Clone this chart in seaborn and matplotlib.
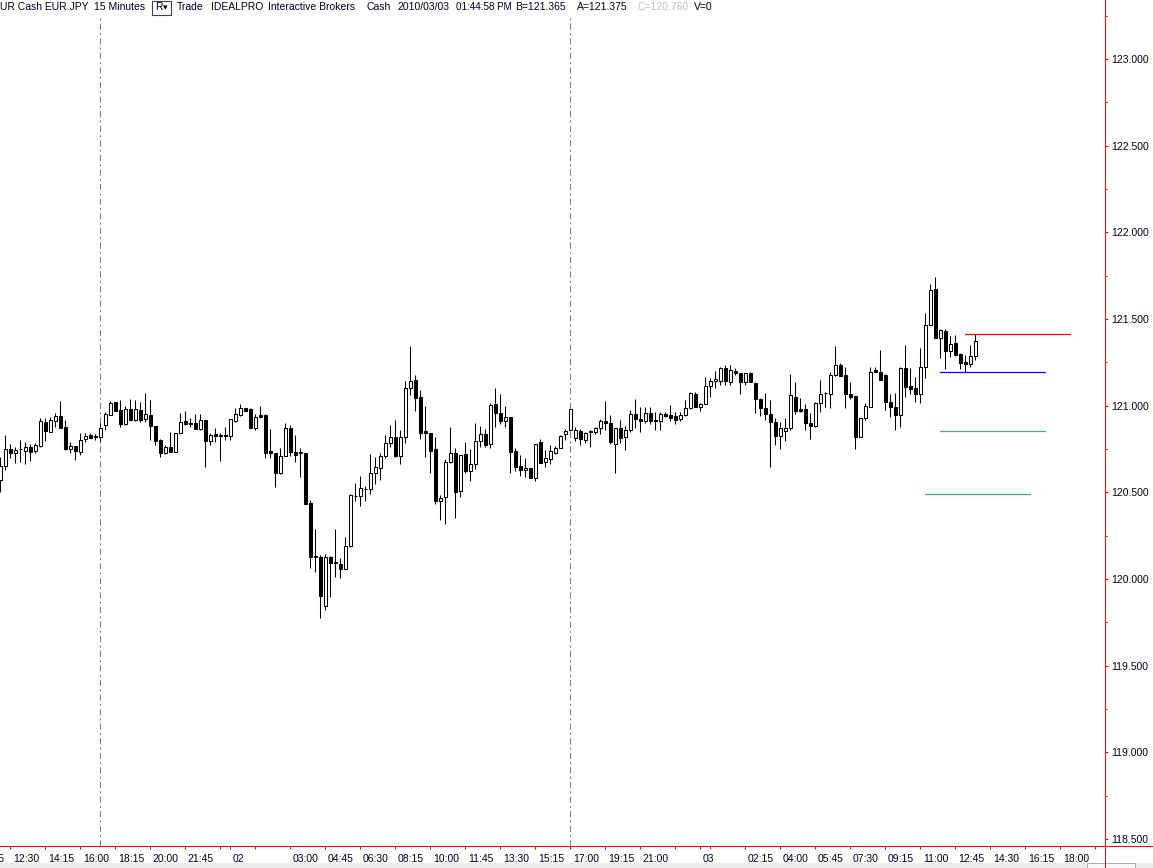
import numpy as np
import pandas as pd
import matplotlib
matplotlib.use("Agg")
import matplotlib.pyplot as plt
import matplotlib.transforms as mtransforms
from matplotlib.lines import Line2D
from matplotlib.patches import Rectangle
import seaborn as sns

sns.set_theme(style="white")
plt.rcParams['font.family'] = ['Liberation Sans', 'DejaVu Sans']

# EUR.JPY 15 minute bars
opens = [
    120.573, 120.654, 120.752, 120.729, 120.750, 120.740, 120.763, 120.740, 120.769, 120.908,
    120.850, 120.913, 120.942, 120.879, 120.752, 120.769, 120.735, 120.810, 120.833, 120.821,
    120.821, 120.890, 120.948, 121.023, 120.977, 120.896, 120.983, 120.919, 120.977, 120.925,
    120.948, 120.885, 120.804, 120.729, 120.763, 120.735, 120.844, 120.913, 120.902, 120.902,
    120.867, 120.919, 120.798, 120.838, 120.827, 120.829, 120.827, 120.913, 120.948, 120.988,
    120.983, 120.873, 120.948, 120.948, 120.740, 120.729, 120.613, 120.712, 120.873, 120.735,
    120.731, 120.729, 120.440, 120.131, 120.129, 119.846, 120.129, 120.096, 120.088, 120.060,
    120.192, 120.479, 120.481, 120.519, 120.521, 120.613, 120.642, 120.712, 120.787, 120.821,
    120.712, 120.821, 121.104, 121.150, 121.052, 120.856, 120.844, 120.752, 120.452, 120.475,
    120.677, 120.729, 120.510, 120.723, 120.625, 120.665, 120.798, 120.838, 120.781, 121.012,
    120.960, 120.913, 120.937, 120.740, 120.654, 120.631, 120.642, 120.585, 120.792, 120.677,
    120.694, 120.729, 120.758, 120.838, 120.862, 120.815, 120.856, 120.804, 120.850, 120.850,
    120.873, 120.913, 120.902, 120.781, 120.873, 120.821, 120.862, 120.954, 120.925, 120.913,
    120.960, 120.915, 120.913, 120.954, 120.948, 120.942, 120.925, 120.948, 120.988, 121.069,
    120.994, 121.012, 121.115, 121.144, 121.144, 121.219, 121.138, 121.202, 121.190, 121.138,
    121.190, 121.133, 121.040, 120.988, 120.954, 120.908, 120.827, 120.856, 120.873, 121.052,
    120.983, 120.983, 120.902, 120.885, 121.017, 121.073, 121.069, 121.179, 121.237, 121.179,
    121.069, 121.058, 120.821, 120.931, 120.994, 121.208, 121.196, 121.179, 121.023, 120.994,
    120.948, 121.219, 121.115, 121.104, 121.069, 121.225, 121.467, 121.675, 121.392, 121.433,
    121.317, 121.363, 121.300, 121.254, 121.242, 121.288,
]
highs = [
    120.706, 120.833, 120.781, 120.763, 120.804, 120.792, 120.781, 120.787, 120.931, 120.931,
    120.937, 120.960, 121.029, 120.919, 120.792, 120.769, 120.844, 120.844, 120.844, 120.838,
    120.902, 120.965, 121.029, 121.023, 121.035, 121.000, 121.040, 121.035, 121.023, 121.075,
    121.035, 120.885, 120.810, 120.775, 120.850, 120.844, 120.960, 120.971, 120.931, 120.954,
    120.954, 120.919, 120.844, 120.873, 120.844, 120.879, 120.925, 120.988, 121.012, 120.988,
    120.988, 120.954, 121.000, 120.954, 120.867, 120.729, 120.758, 120.902, 120.890, 120.833,
    120.758, 120.729, 120.458, 120.290, 120.140, 120.146, 120.135, 120.290, 120.123, 120.244,
    120.492, 120.556, 120.596, 120.538, 120.723, 120.706, 120.729, 120.833, 120.890, 120.919,
    120.862, 121.144, 121.346, 121.179, 121.092, 121.000, 120.844, 120.821, 120.487, 120.694,
    120.879, 120.758, 120.717, 120.792, 120.752, 120.902, 120.885, 120.867, 121.017, 121.104,
    121.069, 121.000, 120.937, 120.758, 120.717, 120.700, 120.642, 120.781, 120.810, 120.746,
    120.775, 120.769, 120.833, 120.867, 120.983, 120.879, 120.867, 120.850, 120.862, 120.879,
    120.925, 121.029, 120.948, 120.873, 120.919, 120.885, 120.977, 121.040, 120.994, 120.994,
    120.994, 120.965, 120.965, 120.965, 121.006, 120.965, 120.965, 121.035, 121.081, 121.081,
    121.017, 121.167, 121.162, 121.202, 121.225, 121.237, 121.237, 121.219, 121.190, 121.190,
    121.196, 121.138, 121.046, 121.075, 121.035, 120.931, 120.908, 120.931, 121.185, 121.138,
    121.046, 121.012, 120.960, 121.023, 121.150, 121.081, 121.196, 121.346, 121.248, 121.225,
    121.138, 121.058, 120.931, 121.017, 121.225, 121.225, 121.323, 121.185, 121.069, 121.075,
    121.225, 121.352, 121.219, 121.167, 121.335, 121.537, 121.704, 121.744, 121.444, 121.444,
    121.404, 121.410, 121.306, 121.294, 121.352, 121.415,
]
lows = [
    120.504, 120.631, 120.700, 120.671, 120.677, 120.665, 120.683, 120.729, 120.763, 120.798,
    120.850, 120.879, 120.873, 120.746, 120.729, 120.688, 120.717, 120.792, 120.815, 120.804,
    120.792, 120.862, 120.948, 120.971, 120.879, 120.890, 120.919, 120.913, 120.908, 120.908,
    120.804, 120.775, 120.706, 120.723, 120.735, 120.735, 120.844, 120.890, 120.879, 120.867,
    120.862, 120.648, 120.775, 120.792, 120.683, 120.804, 120.804, 120.908, 120.942, 120.971,
    120.873, 120.862, 120.931, 120.700, 120.700, 120.533, 120.608, 120.712, 120.712, 120.677,
    120.590, 120.435, 120.065, 120.042, 119.777, 119.823, 119.898, 120.013, 120.008, 120.060,
    120.187, 120.452, 120.423, 120.452, 120.492, 120.550, 120.573, 120.700, 120.763, 120.706,
    120.665, 120.787, 121.063, 120.971, 120.810, 120.706, 120.613, 120.435, 120.342, 120.319,
    120.671, 120.354, 120.475, 120.613, 120.567, 120.637, 120.763, 120.763, 120.758, 120.879,
    120.896, 120.879, 120.613, 120.625, 120.596, 120.590, 120.585, 120.567, 120.671, 120.648,
    120.665, 120.723, 120.758, 120.804, 120.856, 120.798, 120.775, 120.787, 120.763, 120.838,
    120.838, 120.862, 120.781, 120.613, 120.787, 120.746, 120.850, 120.873, 120.850, 120.902,
    120.896, 120.862, 120.862, 120.937, 120.913, 120.896, 120.913, 120.942, 120.983, 120.994,
    120.971, 121.012, 121.052, 121.104, 121.121, 121.121, 121.121, 121.179, 121.069, 121.121,
    121.138, 120.960, 120.942, 120.919, 120.648, 120.775, 120.752, 120.798, 120.862, 120.954,
    120.965, 120.862, 120.810, 120.879, 120.965, 120.994, 120.988, 121.173, 121.173, 120.988,
    121.040, 120.752, 120.821, 120.919, 120.994, 121.196, 121.150, 120.977, 120.937, 120.862,
    120.879, 121.052, 121.069, 121.023, 121.017, 121.162, 121.467, 121.392, 121.277, 121.213,
    121.283, 121.288, 121.213, 121.196, 121.225, 121.265,
]
closes = [
    120.654, 120.752, 120.729, 120.746, 120.752, 120.763, 120.735, 120.775, 120.913, 120.856,
    120.919, 120.942, 120.873, 120.752, 120.769, 120.740, 120.804, 120.827, 120.815, 120.823,
    120.873, 120.954, 121.017, 120.971, 120.896, 120.983, 120.919, 120.983, 120.919, 120.954,
    120.885, 120.798, 120.729, 120.763, 120.735, 120.844, 120.908, 120.896, 120.896, 120.867,
    120.919, 120.798, 120.833, 120.827, 120.829, 120.827, 120.925, 120.954, 120.988, 120.971,
    120.873, 120.937, 120.937, 120.729, 120.729, 120.613, 120.712, 120.873, 120.735, 120.717,
    120.729, 120.435, 120.129, 120.129, 119.904, 120.129, 120.094, 120.094, 120.060, 120.192,
    120.487, 120.481, 120.527, 120.521, 120.613, 120.648, 120.712, 120.787, 120.821, 120.712,
    120.821, 121.104, 121.144, 121.046, 120.844, 120.844, 120.740, 120.452, 120.469, 120.677,
    120.729, 120.504, 120.717, 120.625, 120.665, 120.798, 120.838, 120.775, 121.006, 120.960,
    120.913, 120.937, 120.735, 120.648, 120.631, 120.642, 120.585, 120.781, 120.671, 120.700,
    120.740, 120.758, 120.827, 120.856, 120.983, 120.862, 120.810, 120.844, 120.856, 120.873,
    120.913, 120.902, 120.792, 120.873, 120.815, 120.862, 120.954, 120.925, 120.913, 120.960,
    120.913, 120.913, 120.954, 120.942, 120.931, 120.919, 120.948, 120.988, 121.075, 120.994,
    121.012, 121.115, 121.144, 121.156, 121.219, 121.144, 121.208, 121.190, 121.138, 121.190,
    121.138, 121.040, 120.988, 120.954, 120.908, 120.827, 120.873, 120.873, 121.063, 120.971,
    120.971, 120.902, 120.885, 121.017, 121.069, 121.075, 121.179, 121.237, 121.173, 121.069,
    121.052, 120.821, 120.931, 121.000, 121.196, 121.196, 121.150, 121.023, 120.994, 120.948,
    121.219, 121.110, 121.098, 121.069, 121.225, 121.467, 121.669, 121.392, 121.438, 121.317,
    121.358, 121.294, 121.248, 121.242, 121.288, 121.375,
]

# price levels drawn at the right (price, first bar, colour)
level_prices = [121.412, 121.192, 120.852, 120.489]
level_start = [193, 188, 188, 185]
level_len = 21
level_colors = ["#ff0000", "#0000ff", "#3cb371", "#3cb371"]

session_breaks = [20, 114]

# time axis (bar index of each tick and its label)
xtick_pos = [-5, 2, 9, 16, 23, 30, 37, 44, 46, 51, 58, 65, 72, 79, 86, 93, 100,
             107, 114, 121, 128, 135, 140, 142, 149, 156, 163, 170, 177, 184,
             191, 198, 205, 212, 219]
xtick_lab = ["10:45", "12:30", "14:15", "16:00", "18:15", "20:00", "21:45", "", "02",
             "", "03:00", "04:45", "06:30", "08:15", "10:00", "11:45", "13:30",
             "15:15", "17:00", "19:15", "21:00", "", "03", "", "02:15", "04:00",
             "05:45", "07:30", "09:15", "11:00", "12:45", "14:30", "16:15", "18:00", ""]

df = pd.DataFrame({"open": opens, "high": highs, "low": lows, "close": closes})
df["bar"] = np.arange(len(df))
up = df[df.close >= df.open]
dn = df[df.close < df.open]

W, H = 1153, 868
fig = plt.figure(figsize=(W / 100, H / 100), dpi=100)
fig.patch.set_facecolor("white")
ax = fig.add_axes([0, 22 / H, 1105 / W, 846 / H])
ax.set_facecolor("white")

# candles
ax.vlines(df.bar, df.low, df.high, color="black", lw=0.75, zorder=2)
ax.bar(up.bar, (up.close - up.open).clip(lower=0.002), bottom=up.open, width=0.5,
       color="white", edgecolor="black", lw=0.75, zorder=3)
ax.bar(dn.bar, dn.open - dn.close, bottom=dn.close, width=0.5,
       color="black", edgecolor="black", lw=0.75, zorder=3)

for p, s, c in zip(level_prices, level_start, level_colors):
    sns.lineplot(x=[s, s + level_len], y=[p, p], color=c, lw=0.9, ax=ax, zorder=4)

for b in session_breaks:
    ax.axvline(b, ymin=0, ymax=1 - 16 / 846, color="#808080", lw=0.75,
               dashes=(6, 3, 2, 3), zorder=1)

ax.set_xlim(-0.06, 220.94)
ax.set_ylim(118.46, 123.34)
ax.grid(False)

for s in ["top", "left"]:
    ax.spines[s].set_visible(False)
for s in ["right", "bottom"]:
    ax.spines[s].set_color("red")
    ax.spines[s].set_linewidth(0.75)

ax.yaxis.tick_right()
yt = np.arange(118.5, 123.01, 0.5)
ax.set_yticks(yt)
ax.set_yticklabels([f"{v:.3f}" for v in yt])
ax.set_yticks(np.arange(118.5, 123.3, 0.25), minor=True)
ax.tick_params(axis="y", which="major", right=True, left=False, labelright=True,
               labelleft=False, direction="out", length=2.2, width=0.75,
               color="red", pad=2.2, labelsize=7.5, labelcolor="#000020")
ax.tick_params(axis="y", which="minor", right=True, left=False, direction="out",
               length=1.4, width=0.75, color="red")

ax.set_xticks([p for p in xtick_pos if p >= 0])
ax.tick_params(axis="x", which="major", bottom=True, labelbottom=False,
               direction="out", length=2.2, width=0.75, color="red")

lab_tr = mtransforms.blended_transform_factory(ax.transData, ax.transAxes) + \
    mtransforms.ScaledTranslation(2.5 / 100, -13 / 100, fig.dpi_scale_trans)
for p, lab in zip(xtick_pos, xtick_lab):
    if lab:
        ax.text(p, 0, lab, transform=lab_tr, ha="left", va="center",
                fontsize=7.5, color="#000020", clip_on=False)

# bottom strip, axis line extensions
fig.add_artist(Rectangle((0, 0), 1, 5 / H, transform=fig.transFigure,
                         facecolor="#ececec", edgecolor="none", zorder=0))
fig.add_artist(Rectangle((1087 / W, 0), 48 / W, 5 / H, transform=fig.transFigure,
                         facecolor="#f8f8f8", edgecolor="#a0a0a0", lw=0.6, zorder=1))
fig.add_artist(Line2D([1105 / W, 1], [22 / H, 22 / H], transform=fig.transFigure,
                      color="red", lw=0.75, zorder=5))
fig.add_artist(Line2D([1105 / W, 1105 / W], [0, 22 / H], transform=fig.transFigure,
                      color="red", lw=0.75, zorder=5))

# header line
header = [("UR Cash EUR.JPY", 0, "#000020", 7.5), ("15 Minutes", 94, "#000020", 7.5),
          ("Trade", 177, "#000020", 7.5), ("IDEALPRO", 211, "#000020", 7.5),
          ("Interactive Brokers", 268, "#000020", 7.5), ("Cash", 366, "#000020", 7.5),
          ("2010/03/03", 397, "#000020", 7.5), ("01:44:58 PM", 456, "#000020", 7.1),
          ("B=121.365", 515, "#000020", 7.5), ("A=121.375", 577, "#000020", 7.5),
          ("C=120.760", 637, "#c0c0c0", 7.5), ("V=0", 694, "#000020", 7.5)]
for txt, x, col, fs in header:
    fig.text(x / W, 1 - 7 / H, txt, ha="left", va="center", fontsize=fs, color=col)
fig.add_artist(Rectangle((152 / W, 1 - 15 / H), 19 / W, 14 / H, transform=fig.transFigure,
                         facecolor="white", edgecolor="#404040", lw=0.8, zorder=6))
fig.text(155 / W, 1 - 7.5 / H, "R", ha="left", va="center", fontsize=7.5,
         color="#000020", zorder=7)
fig.text(163 / W, 1 - 8 / H, "\u25be", ha="left", va="center", fontsize=6.5,
         color="#000020", family=["DejaVu Sans"], zorder=7)

fig.savefig("out.png", dpi=100)
